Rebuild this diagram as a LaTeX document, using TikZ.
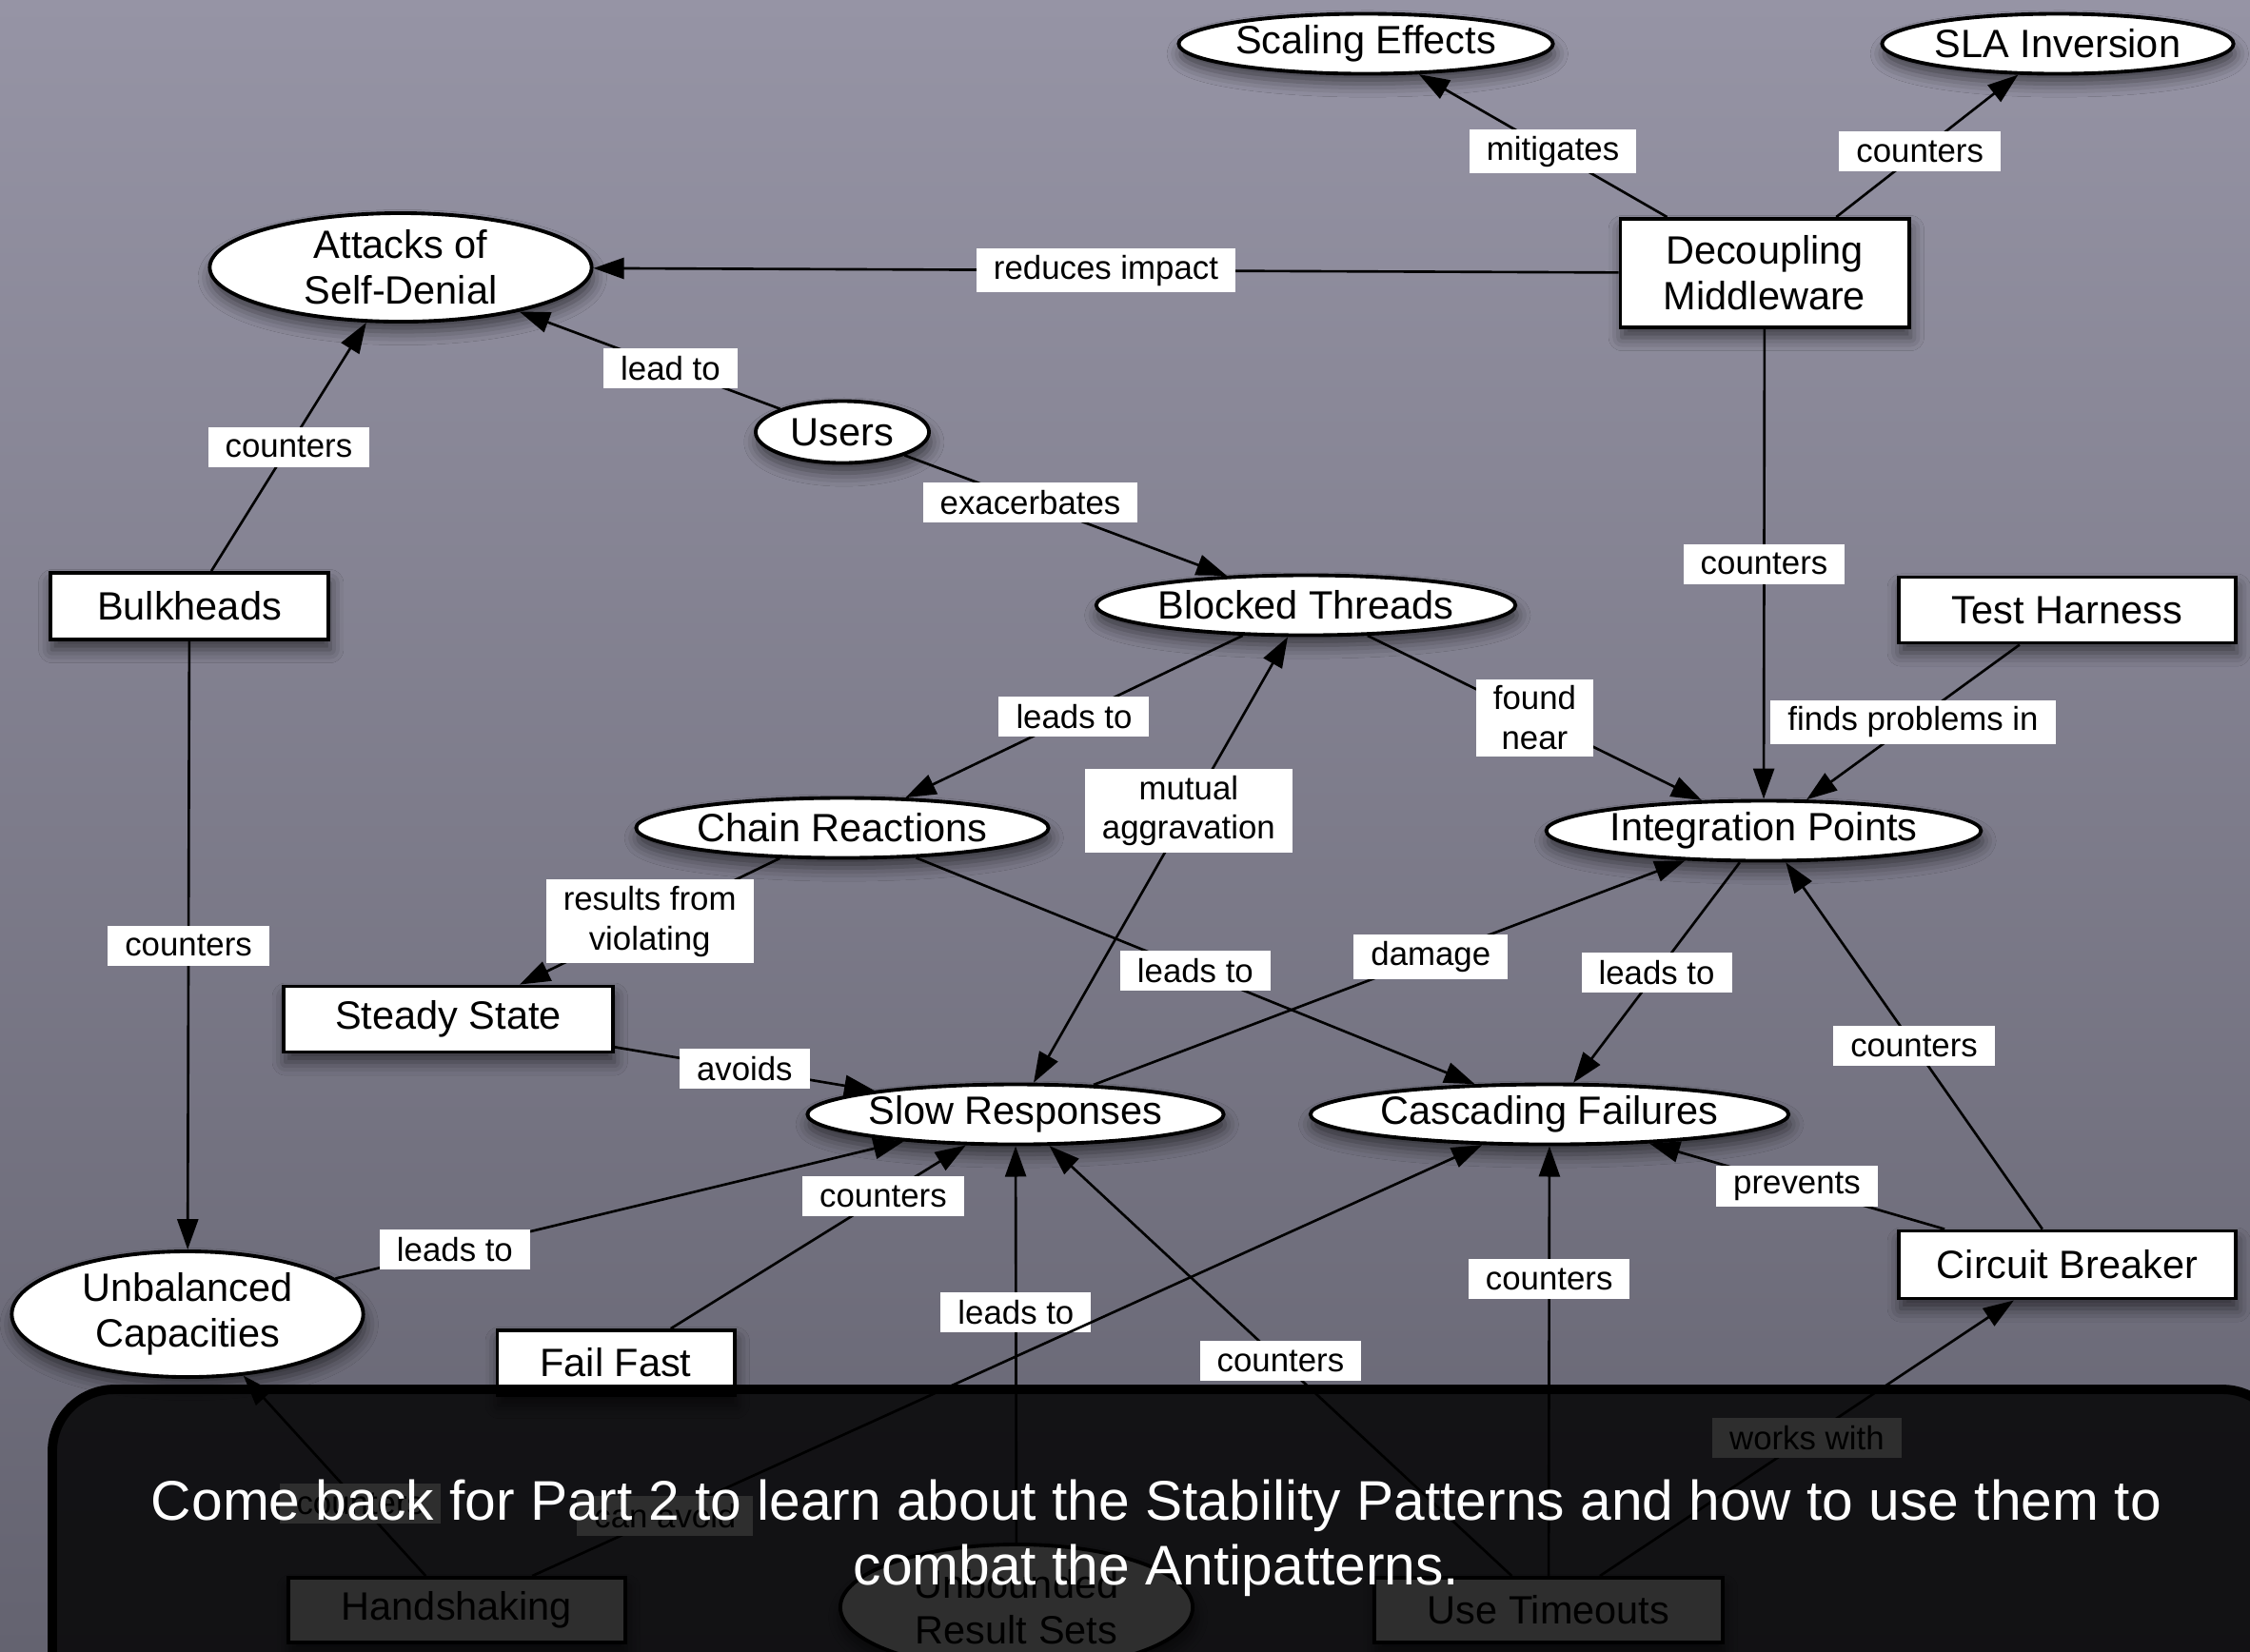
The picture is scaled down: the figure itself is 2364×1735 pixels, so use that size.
\documentclass[tikz,border=0pt]{standalone}
\usepackage{fontspec}
\setmainfont{Liberation Sans}
\usetikzlibrary{shapes.geometric,arrows.meta,shadows.blur}
\definecolor{bgtop}{RGB}{150,148,165}
\definecolor{bgbot}{RGB}{100,99,112}

\begin{document}
\begin{tikzpicture}[x=0.01cm,y=-0.01cm,
    every node/.style={font=\fontsize{11.8}{13.6}\selectfont, align=center},
    drop/.style={blur shadow={shadow xshift=0.5pt, shadow yshift=-3pt, shadow blur radius=4pt, shadow opacity=55}},
    concept/.style={ellipse, draw, line width=1.1pt, fill=white, inner sep=0pt, minimum height=0.63cm, drop},
    pattern/.style={rectangle, draw, line width=1.1pt, fill=white, inner sep=0pt, minimum height=0.69cm, drop},
    lbl/.style={fill=white, inner xsep=0.18cm, inner ysep=2pt, minimum height=0.42cm, font=\fontsize{9.9}{11.9}\selectfont},
    link/.style={line width=0.75pt, -{Triangle[length=0.32cm,width=0.22cm]}},
    both/.style={line width=0.75pt, {Triangle[length=0.32cm,width=0.22cm]}-{Triangle[length=0.32cm,width=0.22cm]}},
  ]
  \useasboundingbox (0,0) rectangle (2364,1735);
  \clip (0,0) rectangle (2364,1735);
  \shade[top color=bgtop, bottom color=bgbot] (0,0) rectangle (2364,1735);

  \node[concept, minimum width=3.93cm] (SE) at (1435,46) {Scaling Effects};
  \node[concept, minimum width=3.69cm] (SLA) at (2162,46) {SLA Inversion};
  \node[pattern, minimum width=3.03cm, minimum height=1.14cm] (DM) at (1854,287) {Decoupling\\Middleware};
  \node[concept, minimum width=4.01cm, minimum height=1.14cm] (ASD) at (421,281) {Attacks of\\Self-Denial};
  \node[concept, minimum width=1.82cm, minimum height=0.65cm] (U) at (885,454) {Users};
  \node[pattern, minimum width=2.92cm, minimum height=0.70cm] (BH) at (199,637) {Bulkheads};
  \node[concept, minimum width=4.37cm] (BT) at (1372,636) {Blocked Threads};
  \node[pattern, minimum width=3.53cm] (TH) at (2172,641) {Test Harness};
  \node[concept, minimum width=4.33cm] (CR) at (885,870) {Chain Reactions};
  \node[concept, minimum width=4.55cm] (IP) at (1853,873) {Integration Points};
  \node[pattern, minimum width=3.45cm] (SS) at (471,1071) {Steady State};
  \node[concept, minimum width=4.37cm] (SR) at (1067,1171) {Slow Responses};
  \node[concept, minimum width=4.96cm] (CF) at (1628,1171) {Cascading Failures};
  \node[pattern, minimum width=3.53cm, minimum height=0.71cm] (CB) at (2172,1329) {Circuit Breaker};
  \node[concept, minimum width=3.69cm, minimum height=1.32cm] (UC) at (197,1381) {Unbalanced\\Capacities};
  \node[pattern, minimum width=2.49cm, minimum height=0.68cm] (FF) at (647,1432) {Fail Fast};
  \node[pattern, minimum width=3.53cm, minimum height=0.68cm] (HS) at (480,1692) {Handshaking};
  \node[concept, minimum width=3.70cm, minimum height=1.32cm] (URS) at (1068,1689) {Unbounded\\Result Sets};
  \node[pattern, minimum width=3.65cm, minimum height=0.68cm] (UT) at (1627,1692) {Use Timeouts};

  \draw[link] (DM) -- node[lbl, pos=0.46]{mitigates} (SE);
  \draw[link] (DM) -- node[lbl, pos=0.46]{counters} (SLA);
  \draw[link] (DM) -- node[lbl]{reduces impact} (ASD);
  \draw[link] (U) -- node[lbl, pos=0.42]{lead to} (ASD);
  \draw[link] (U) -- node[lbl, pos=0.39]{exacerbates} (BT);
  \draw[link] (BH) -- node[lbl]{counters} (ASD);
  \draw[link] (BH) -- node[lbl]{counters} (UC);
  \draw[link] (DM) -- node[lbl]{counters} (IP);
  \draw[link] (TH) -- node[lbl]{finds problems in} (IP);
  \draw[link] (BT) -- node[lbl]{found\\near} (IP);
  \draw[link] (BT) -- node[lbl]{leads to} (CR);
  \draw[both] (BT) -- node[lbl, pos=0.39]{mutual\\aggravation} (SR);
  \draw[link] (CR) -- node[lbl]{results from\\violating} (SS);
  \draw[link] (CR) -- node[lbl]{leads to} (CF);
  \draw[link] (SR) -- node[lbl, pos=0.57]{damage} (IP);
  \draw[link] (IP) -- node[lbl]{leads to} (CF);
  \draw[link] (CB) -- node[lbl]{counters} (IP);
  \draw[link] (SS) -- node[lbl]{avoids} (SR);
  \draw[link] (CB) -- node[lbl]{prevents} (CF);
  \draw[link] (UC) -- node[lbl, pos=0.21]{leads to} (SR);
  \draw[link] (FF) -- node[lbl, pos=0.72]{counters} (SR);
  \draw[link] (URS) -- node[lbl, pos=0.58]{leads to} (SR);
  \draw[link] (UT) -- node[lbl]{counters} (SR);
  \draw[link] (UT) -- node[lbl, pos=0.69]{counters} (CF);
  \draw[link] (UT) -- node[lbl]{works with} (CB);
  \draw[link] (HS) -- node[lbl, pos=0.14]{can avoid} (CF);
  \draw[link] (HS) -- node[lbl, pos=0.36]{counters} (UC);

  \draw[line width=2.8pt, fill=black, fill opacity=0.82, rounded corners=0.65cm] (55,1460) rectangle (2400,1800);
  \node[text=white, font=\fontsize{16.7}{19.4}\selectfont] (msg) at (1215,1616) {Come back for Part 2 to learn about the Stability Patterns and how to use them to\\combat the Antipatterns.};
\end{tikzpicture}
\end{document}
